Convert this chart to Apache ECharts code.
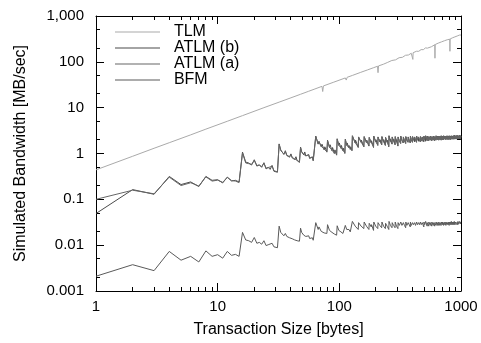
<!DOCTYPE html>
<html><head><meta charset="utf-8">
<script src="https://cdn.jsdelivr.net/npm/echarts@6/dist/echarts.min.js"></script>
<style>html,body{margin:0;padding:0;background:#fff}#c{width:481px;height:343px}</style>
</head><body><div id="c"></div>
<script>
// Transaction sizes (bytes) shared by ATLM (b), ATLM (a), BFM
const bytes = [1,2,3,4,5,6,7,8,9,10,11,12,13,14,15,16,
17,18,19,20,21,22,23,24,25,26,27,28,29,30,31,32,
33,34,35,36,37,38,39,40,41,42,43,44,45,46,47,48,
49,50,51,52,53,54,55,56,57,58,59,60,61,62,63,64,
67,68,71,72,75,76,79,80,83,84,87,88,91,92,95,96,99,100,103,104,107,108,111,112,115,116,119,120,123,124,127,128,
135,136,143,144,151,152,159,160,167,168,175,176,183,184,191,192,199,200,207,208,215,216,223,224,231,232,239,240,247,248,255,256,
263,264,271,272,279,280,287,288,295,296,303,304,311,312,319,320,327,328,335,336,343,344,351,352,359,360,367,368,375,376,383,384,
391,392,399,400,407,408,415,416,423,424,431,432,439,440,447,448,455,456,463,464,471,472,479,480,487,488,495,496,503,504,511,512,
527,528,543,544,559,560,575,576,591,592,607,608,623,624,639,640,655,656,671,672,687,688,703,704,719,720,735,736,751,752,767,768,
783,784,799,800,815,816,831,832,847,848,863,864,879,880,895,896,911,912,927,928,943,944,959,960,975,976,991,992,1000];

const atlmB = [0.049,0.163,0.129,0.316,0.21,0.24,0.19,0.316,0.26,0.268,0.228,0.306,0.251,0.26,0.239,1.07,
0.65,0.62,0.56,0.73,0.53,0.57,0.5,0.63,0.46,0.5,0.45,0.55,0.41,0.43,0.39,1.62,
1.2,1.1,0.95,1.15,0.92,0.95,0.85,0.98,0.8,0.82,0.74,0.85,0.7,0.72,0.64,1.38,
1.1,1.05,0.93,1.08,0.88,0.9,0.8,0.95,0.78,0.8,0.72,0.85,0.7,0.72,0.64,2.4,
1.6,1.85,1.4,1.6,1.2,1.4,1.07,1.95,1.35,1.55,1.15,1.35,1.0,1.2,0.92,2.1,1.5,1.7,1.3,1.5,1.15,1.3,1.0,2.05,1.5,1.7,1.35,1.5,1.22,1.4,1.15,2.45,
1.7,1.95,1.35,2.3, 1.75,1.95,1.4,2.35, 1.75,1.95,1.45,2.25, 1.7,1.9,1.35,2.4, 1.8,2.0,1.5,2.3, 1.8,2.0,1.55,2.35, 1.8,2.0,1.5,2.25, 1.75,1.95,1.4,2.45,
1.85,2.05,1.6,2.3, 1.85,2.05,1.55,2.35, 1.8,2.0,1.45,2.3, 1.9,2.1,1.65,2.4, 1.95,2.1,1.7,2.3, 1.9,2.1,1.65,2.35, 1.95,2.15,1.75,2.3, 1.95,2.1,1.7,2.4,
2.0,2.15,1.75,2.35, 2.0,2.15,1.8,2.3, 1.95,2.15,1.75,2.4, 2.05,2.2,1.85,2.3, 2.0,2.15,1.8,2.35, 2.05,2.2,1.85,2.3, 2.0,2.2,1.8,2.4, 2.05,2.2,1.85,2.45,
1.9,2.4, 1.9,2.35, 1.95,2.4, 1.9,2.35, 1.95,2.4, 1.9,2.35, 1.95,2.45, 2.0,2.4, 1.95,2.4, 2.0,2.4, 1.95,2.45, 2.0,2.4, 2.0,2.45, 2.05,2.4, 2.0,2.4,
2.05,2.45, 2.0,2.4, 2.05,2.45, 2.0,2.4, 2.05,2.45, 2.05,2.4, 2.05,2.45, 2.05,2.5, 2.1,2.45, 2.05,2.45, 2.1,2.5, 2.05,2.45, 2.1,2.45, 2.1,2.5, 2.05,2.45, 2.3];

const atlmA = [0.1,0.158,0.132,0.305,0.2,0.23,0.195,0.31,0.25,0.262,0.235,0.3,0.258,0.25,0.232,1.03,
0.62,0.6,0.58,0.7,0.55,0.55,0.52,0.61,0.48,0.49,0.46,0.53,0.42,0.44,0.4,1.58,
1.15,1.12,0.98,1.1,0.9,0.97,0.83,0.95,0.82,0.8,0.76,0.82,0.71,0.7,0.66,1.34,
1.08,1.03,0.95,1.05,0.9,0.88,0.82,0.92,0.8,0.78,0.74,0.82,0.7,0.7,0.65,2.35,
1.62,1.8,1.43,1.55,1.25,1.36,1.1,1.9,1.38,1.5,1.18,1.3,1.02,1.15,0.95,2.05,1.52,1.65,1.32,1.45,1.18,1.28,1.03,2.0,1.53,1.65,1.37,1.47,1.25,1.36,1.18,2.4,
1.72,1.9,1.38,2.25, 1.78,1.92,1.42,2.3, 1.72,1.92,1.48,2.2, 1.73,1.88,1.4,2.35, 1.82,1.97,1.52,2.25, 1.83,1.97,1.58,2.3, 1.78,1.95,1.52,2.2, 1.78,1.92,1.45,2.4,
1.87,2.0,1.62,2.25, 1.83,2.0,1.58,2.3, 1.82,1.97,1.5,2.25, 1.92,2.07,1.68,2.35, 1.93,2.07,1.72,2.25, 1.92,2.07,1.68,2.3, 1.97,2.1,1.78,2.25, 1.93,2.08,1.72,2.35,
2.02,2.12,1.78,2.3, 1.98,2.12,1.82,2.25, 1.97,2.1,1.78,2.35, 2.03,2.17,1.88,2.25, 2.02,2.12,1.82,2.3, 2.03,2.17,1.88,2.25, 2.02,2.15,1.84,2.35, 2.03,2.17,1.88,2.4,
1.92,2.35, 1.93,2.3, 1.97,2.35, 1.93,2.3, 1.98,2.35, 1.93,2.3, 1.98,2.4, 2.02,2.35, 1.98,2.35, 2.03,2.35, 1.98,2.4, 2.03,2.35, 2.02,2.4, 2.07,2.35, 2.03,2.35,
2.07,2.4, 2.03,2.35, 2.07,2.4, 2.03,2.35, 2.07,2.4, 2.08,2.35, 2.07,2.4, 2.08,2.45, 2.12,2.4, 2.08,2.4, 2.12,2.45, 2.08,2.4, 2.12,2.4, 2.12,2.45, 2.08,2.4, 2.25];

const bfm = [0.0021,0.00375,0.00278,0.0073,0.0047,0.0057,0.0043,0.0075,0.0057,0.0062,0.0052,0.0073,0.006,0.0063,0.0057,0.019,
0.013,0.0125,0.0115,0.0147,0.011,0.0115,0.0105,0.0125,0.0098,0.0102,0.0095,0.011,0.0092,0.0094,0.0088,0.026,
0.019,0.018,0.016,0.018,0.0155,0.016,0.0145,0.0158,0.0138,0.014,0.013,0.0142,0.0125,0.0128,0.0122,0.0235,
0.019,0.018,0.0165,0.018,0.0155,0.016,0.0145,0.016,0.014,0.0142,0.013,0.0145,0.0128,0.013,0.0122,0.031,
0.022,0.025,0.02,0.022,0.0185,0.02,0.018,0.028,0.021,0.023,0.019,0.021,0.0175,0.019,0.0165,0.0265,0.021,0.023,0.0195,0.021,0.018,0.0195,0.017,0.027,0.022,0.024,0.0205,0.022,0.0195,0.021,0.0195,0.033,
0.026,0.028,0.022,0.031, 0.026,0.028,0.023,0.032, 0.026,0.028,0.022,0.03, 0.025,0.028,0.021,0.032, 0.026,0.028,0.023,0.031, 0.027,0.029,0.024,0.032, 0.026,0.028,0.023,0.03, 0.026,0.028,0.022,0.033,
0.027,0.029,0.024,0.031, 0.027,0.029,0.024,0.032, 0.026,0.028,0.023,0.031, 0.027,0.029,0.025,0.032, 0.027,0.029,0.025,0.031, 0.027,0.029,0.024,0.032, 0.027,0.029,0.025,0.031, 0.028,0.029,0.025,0.032,
0.027,0.029,0.025,0.031, 0.028,0.029,0.026,0.031, 0.027,0.029,0.025,0.032, 0.028,0.03,0.026,0.031, 0.028,0.029,0.026,0.032, 0.028,0.03,0.026,0.031, 0.028,0.029,0.025,0.032, 0.028,0.03,0.026,0.033,
0.026,0.031, 0.026,0.032, 0.027,0.031, 0.026,0.032, 0.027,0.031, 0.026,0.031, 0.027,0.032, 0.027,0.031, 0.027,0.032, 0.027,0.031, 0.027,0.032, 0.028,0.032, 0.027,0.031, 0.028,0.032, 0.027,0.032,
0.028,0.031, 0.028,0.032, 0.027,0.032, 0.028,0.032, 0.028,0.033, 0.028,0.032, 0.028,0.032, 0.028,0.033, 0.028,0.032, 0.029,0.033, 0.028,0.032, 0.028,0.033, 0.029,0.032, 0.028,0.033, 0.029,0.032, 0.03];

// TLM has its own sample sizes
const tlmBytes = [1,2,3,4,6,8,12,16,24,32,40,48,56,62,63,64,72,73,74,90,112,114,116,128,150,170,190,206,208,210,230,250,270,290,310,330,350,370,390,400,402,404,410,430,450,470,490,510,530,550,570,590,609,611,613,630,650,670,690,710,730,750,770,790,809,811,813,830,850,870,890,910,930,950,970,990,1000];
const tlm = [0.44,0.87,1.3,1.72,2.55,3.4,5.05,6.7,10.0,13.2,16.4,19.6,22.8,25.2,23.5,26,29.2,22.5,29.8,36,44.5,40,46,50.5,59,66.5,74,80,58,81.5,88.5,97.4,107,110.5,123,125.5,139,141,154,156,113,158,156,170,170,185,184,201,199,217,213,233,236,120,238,236,256,248,272,262,288,276,303,290,312,170,314,305,334,318,350,333,366,347,383,362,385];

const seriesNames = ['TLM','ATLM (b)','ATLM (a)','BFM'];
const seriesColors = ['#aaaaaa','#4a4a4a','#666666','#5a5a5a'];

// minor tick positions
const xMinor = [2,3,4,5,6,7,8,9,20,30,40,50,60,70,80,90,200,300,400,500,600,700,800,900];
const yMinor = [0.002,0.005,0.02,0.05,0.2,0.5,2,5,20,50,200,500];

const font = '"Liberation Sans", Arial, sans-serif';
const zip = (xs, ys) => xs.map((x, i) => [x, ys[i]]);
const crisp = v => Math.round(v - 0.5) + 0.5;

const chart = echarts.init(document.getElementById('c'), null, {renderer: 'canvas'});

function fmtY(v) {
  const n = Number(Number(v).toPrecision(6));
  return n === 1000 ? '1,000' : String(n);
}
function fmtX(v) { return String(Number(Number(v).toPrecision(6))); }

const axisCommon = {
  type: 'log', logBase: 10,
  axisLine: {show: true, onZero: false, lineStyle: {color: '#000', width: 1}},
  axisTick: {show: true, inside: true, length: 8, lineStyle: {color: '#000', width: 1}},
  splitLine: {show: false},
  minorTick: {show: false},
  minorSplitLine: {show: false}
};

const tickStyle = {stroke: '#000', lineWidth: 1};

const option = {
  animation: false,
  backgroundColor: '#fff',
  grid: {left: 96, right: 20, top: 16, bottom: 50, containLabel: false},
  legend: {
    orient: 'vertical', left: 115, top: 24, padding: 0,
    itemWidth: 45, itemHeight: 1, itemGap: 0,
    icon: 'rect', selectedMode: false,
    data: seriesNames,
    formatter: name => '\u00a0\u00a0' + name,
    textStyle: {fontSize: 16, fontFamily: font, color: '#000', lineHeight: 15.5}
  },
  xAxis: [
    Object.assign({}, axisCommon, {
      min: 1, max: 1000, position: 'bottom',
      name: 'Transaction Size [bytes]', nameLocation: 'middle', nameGap: 31,
      nameTextStyle: {fontSize: 16, fontFamily: font, color: '#000'},
      axisLabel: {fontSize: 15, fontFamily: font, color: '#000', margin: 8, formatter: fmtX}
    }),
    Object.assign({}, axisCommon, {
      min: 1, max: 1000, position: 'top', axisLabel: {show: false}
    })
  ],
  yAxis: [
    Object.assign({}, axisCommon, {
      min: 0.001, max: 1000, position: 'left',
      name: 'Simulated Bandwidth [MB/sec]', nameLocation: 'middle', nameGap: 67,
      nameTextStyle: {fontSize: 16, fontFamily: font, color: '#000'},
      axisLabel: {fontSize: 15, fontFamily: font, color: '#000', margin: 12, formatter: fmtY}
    }),
    Object.assign({}, axisCommon, {
      min: 0.001, max: 1000, position: 'right', axisLabel: {show: false}
    })
  ],
  series: [
    {
      type: 'custom', name: 'xminor', silent: true, clip: false, xAxisIndex: 0, yAxisIndex: 0,
      data: xMinor.map(v => [v, 1]),
      renderItem: (params, api) => {
        const x = api.value(0);
        const b = api.coord([x, 0.001]);
        const t = api.coord([x, 1000]);
        const px = crisp(b[0]);
        return {type: 'group', children: [
          {type: 'line', shape: {x1: px, y1: b[1], x2: px, y2: b[1] - 4}, style: tickStyle},
          {type: 'line', shape: {x1: px, y1: t[1], x2: px, y2: t[1] + 4}, style: tickStyle}
        ]};
      }
    },
    {
      type: 'custom', name: 'yminor', silent: true, clip: false, xAxisIndex: 0, yAxisIndex: 0,
      data: yMinor.map(v => [1, v]),
      renderItem: (params, api) => {
        const y = api.value(1);
        const l = api.coord([1, y]);
        const r = api.coord([1000, y]);
        const py = crisp(l[1]);
        return {type: 'group', children: [
          {type: 'line', shape: {x1: l[0], y1: py, x2: l[0] + 4, y2: py}, style: tickStyle},
          {type: 'line', shape: {x1: r[0], y1: py, x2: r[0] - 4, y2: py}, style: tickStyle}
        ]};
      }
    },
    {type: 'line', name: seriesNames[0], data: zip(tlmBytes, tlm), color: seriesColors[0], showSymbol: false, symbol: 'none', lineStyle: {width: 1, color: seriesColors[0]}, z: 3},
    {type: 'line', name: seriesNames[1], data: zip(bytes, atlmB), color: seriesColors[1], showSymbol: false, symbol: 'none', lineStyle: {width: 1, color: seriesColors[1]}, z: 3},
    {type: 'line', name: seriesNames[2], data: zip(bytes, atlmA), color: seriesColors[2], showSymbol: false, symbol: 'none', lineStyle: {width: 1, color: seriesColors[2]}, z: 3},
    {type: 'line', name: seriesNames[3], data: zip(bytes, bfm), color: seriesColors[3], showSymbol: false, symbol: 'none', lineStyle: {width: 1, color: seriesColors[3]}, z: 3}
  ]
};
chart.setOption(option);
</script>
</body></html>
